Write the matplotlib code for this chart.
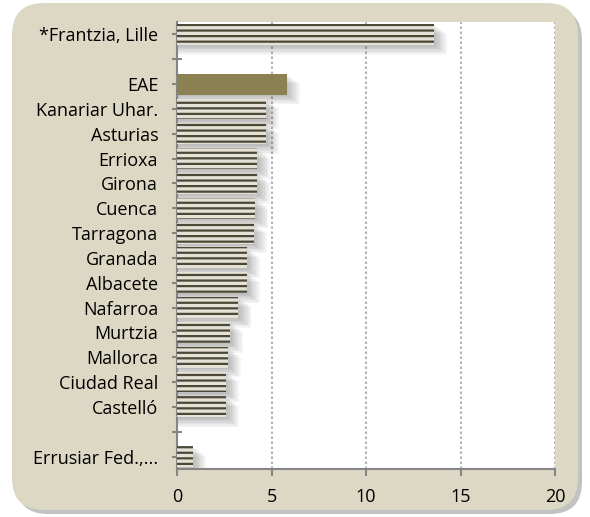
import numpy as np
import matplotlib
matplotlib.use("Agg")
import matplotlib.pyplot as plt
from matplotlib.patches import FancyBboxPatch

labels = ['*Frantzia, Lille', '', 'EAE', 'Kanariar Uhar.', 'Asturias', 'Errioxa',
          'Girona', 'Cuenca', 'Tarragona', 'Granada', 'Albacete', 'Nafarroa',
          'Murtzia', 'Mallorca', 'Ciudad Real', 'Castelló', '', 'Errusiar Fed.,...']
values = [13.6, np.nan, 5.8, 4.7, 4.72, 4.25, 4.24, 4.15, 4.05, 3.7, 3.7, 3.25,
          2.8, 2.7, 2.6, 2.6, np.nan, 0.85]
highlight = 'EAE'
xticks = [0, 5, 10, 15, 20]

plt.rcParams['font.family'] = ['Open Sans', 'DejaVu Sans']
plt.rcParams['hatch.linewidth'] = 1.6

fig = plt.figure(figsize=(5.9, 5.17), dpi=100)

# beige rounded background with shadow
shadow = FancyBboxPatch((0.16, 0.03), 5.66, 5.06, boxstyle="round,pad=0,rounding_size=0.32",
                        transform=fig.dpi_scale_trans, facecolor='#9a9a9a', edgecolor='none',
                        alpha=0.6, zorder=0)
box = FancyBboxPatch((0.12, 0.07), 5.66, 5.07, boxstyle="round,pad=0,rounding_size=0.32",
                     transform=fig.dpi_scale_trans, facecolor='#ddd8c4', edgecolor='none',
                     zorder=1)
fig.patches.extend([shadow, box])

ax = fig.add_axes([0.300, 0.0929, 0.6407, 0.8645])
ax.set_facecolor('white')
ax.set_zorder(2)

y = np.arange(len(labels))
vals = np.array(values, dtype=float)
mask = ~np.isnan(vals)
h = 0.84

# soft shadow behind the bars
for k in range(7):
    off = 0.07 * (k + 1)
    ax.barh(y[mask] + off * 0.8, vals[mask] + off * 1.4, height=h, left=0,
            color='#000000', alpha=0.04, linewidth=0, zorder=2)

for yi, v, lab in zip(y, vals, labels):
    if np.isnan(v):
        continue
    if lab == highlight:
        ax.barh(yi, v, height=h, color='#8b8152', edgecolor='none', zorder=3)
    else:
        ax.barh(yi, v, height=h, facecolor='#e4e1d6', edgecolor='#4b4836',
                hatch='---', linewidth=0, zorder=3)

ax.set_xlim(0, 20)
ax.set_ylim(len(labels) - 0.5, -0.5)
ax.set_xticks(xticks)
ax.set_xticklabels([str(t) for t in xticks])
ax.set_yticks(y)
ax.set_yticklabels(labels)

ax.xaxis.grid(True, linestyle=(0, (1.2, 1.2)), color='#b5b5b5', linewidth=1.5, zorder=1)
ax.set_axisbelow(True)

for s in ['top', 'right']:
    ax.spines[s].set_visible(False)
for s in ['left', 'bottom']:
    ax.spines[s].set_color('#858585')
    ax.spines[s].set_linewidth(1.5)

ax.tick_params(axis='y', direction='inout', length=7, width=1.5, color='#858585',
               labelsize=13, pad=10)
ax.tick_params(axis='x', direction='out', length=5, width=1.5, color='#858585',
               labelsize=13, pad=9)

fig.savefig('out.png', dpi=100, facecolor='white')
